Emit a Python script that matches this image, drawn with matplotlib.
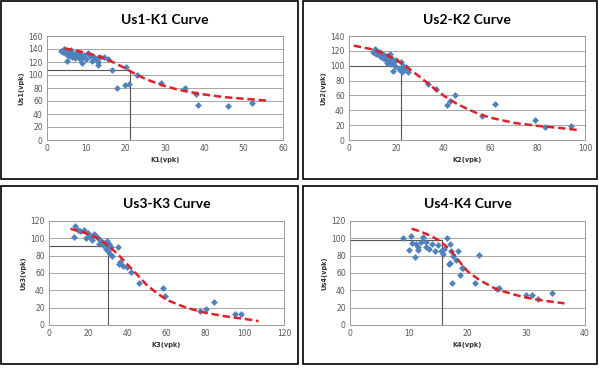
import matplotlib.pyplot as plt
from matplotlib.patches import Rectangle

# scatter data
K1 = [3.5, 4, 4.2, 4.5, 4.8, 5, 5.2, 5.5, 5.8, 6, 6.3, 6.5, 7, 7.2, 7.5, 8, 8.3, 8.5, 9, 9.2,
      9.5, 10, 10.5, 11, 11.5, 12, 12.5, 13, 13, 13.5, 14.5, 15.5, 16.5, 17.8, 19.8, 20.2, 20.8, 23, 29, 35,
      38, 38.5, 46, 52]
Us1 = [137, 135, 140, 138, 132, 122, 136, 130, 134, 138, 128, 133, 131, 126, 136, 129, 124, 133, 118, 127,
       131, 124, 134, 130, 122, 128, 125, 116, 120, 128, 128, 125, 108, 80, 84, 112, 86, 100, 88, 80,
       71, 54, 52, 57]

K2 = [10, 11, 11.5, 12, 12.5, 13, 13.5, 14, 14.5, 15, 15.5, 16, 16, 16.5, 17, 17.5, 18, 18, 18.5, 19,
      19.5, 20, 21, 22, 22.5, 23, 23.5, 24, 25, 33.5, 37, 41.5, 43, 45, 56.5, 62, 79, 83, 94]
Us2 = [118, 122, 116, 120, 114, 118, 112, 116, 110, 114, 108, 113, 104, 110, 106, 116, 102, 110, 93, 106,
       100, 108, 96, 105, 92, 100, 95, 98, 92, 75, 68, 47, 53, 61, 32, 48, 27, 18, 19]

K3 = [13, 13.5, 15, 16, 18, 19, 20, 21, 22, 23, 24, 25, 25.5, 26, 27, 27.5, 28, 29, 29.5, 30,
      30.5, 31, 31.5, 32, 35, 35.5, 36, 38, 40, 42, 46, 58, 59, 77, 80, 84, 95, 98]
Us3 = [102, 114, 110, 108, 110, 100, 106, 102, 98, 105, 103, 100, 94, 98, 96, 92, 95, 88, 97, 85,
       93, 82, 90, 80, 90, 70, 73, 68, 67, 61, 49, 43, 33, 16, 19, 26, 13, 13]

K4 = [9, 10, 10.3, 10.5, 11, 11.2, 11.5, 11.5, 12, 12.5, 13, 13, 13.5, 14, 14.5, 15, 15.5, 15.8, 16, 16.5,
      16.8, 17, 17, 17.2, 17.3, 17.5, 18, 18.3, 18.7, 19, 19.3, 21.3, 22, 25, 25.3, 30, 31, 32, 34.3]
Us4 = [100, 87, 103, 95, 78, 93, 90, 86, 96, 101, 96, 90, 88, 94, 85, 92, 85, 82, 88, 100,
       70, 72, 94, 85, 48, 80, 75, 85, 58, 66, 66, 48, 81, 42, 43, 35, 35, 30, 37]

# fitted curves (red dashed)
C1x = [4.5, 7, 10, 13, 16, 18, 20, 22, 25, 28, 30, 33, 36, 40, 45, 50, 56]
C1y = [141, 138, 134, 129, 122, 116, 110, 103, 94, 87, 83, 78, 74, 70, 66, 63.5, 60.5]
C2x = [2, 10, 15, 20, 25, 30, 35, 40, 45, 50, 55, 60, 70, 80, 90, 98]
C2y = [127, 122, 116, 108, 97, 85, 72, 60, 50, 42, 35, 30, 23, 19, 16, 13]
C3x = [11, 20, 25, 30, 35, 40, 45, 50, 55, 60, 70, 80, 90, 100, 107]
C3y = [111, 105, 100, 92, 82, 70, 58, 46, 37, 29, 20, 14, 10, 7, 4.5]
C4x = [10.5, 12, 14, 15, 16, 17, 18, 19, 20, 22, 25, 28, 30, 33, 36.5]
C4y = [111, 108, 102, 98, 93, 87, 79, 70, 62, 52, 41, 35, 31.5, 28, 25]

# reference boxes (x end, y top)
box1 = (21, 107)
box2 = (22, 100)
box3 = (30, 91)
box4 = (15.6, 98)

W, H = 599, 370
fig = plt.figure(figsize=(W / 100, H / 100), dpi=100)

panels = [
    ("Us1-K1 Curve", K1, Us1, C1x, C1y, box1, "K1(vpk)", "Us1(vpk)", (0, 60, 10), (0, 160, 20), (47, 283, 36, 140), (1, 1, 298, 179)),
    ("Us2-K2 Curve", K2, Us2, C2x, C2y, box2, "K2(vpk)", "Us2(vpk)", (0, 100, 20), (0, 140, 20), (349, 585, 36, 140), (303, 1, 597, 179)),
    ("Us3-K3 Curve", K3, Us3, C3x, C3y, box3, "K3(vpk)", "Us3(vpk)", (0, 120, 20), (0, 120, 20), (49, 284, 221, 325), (1, 186, 298, 364)),
    ("Us4-K4 Curve", K4, Us4, C4x, C4y, box4, "K4(vpk)", "Us4(vpk)", (0, 40, 10), (0, 120, 20), (350, 585, 221, 325), (303, 186, 597, 364)),
]

for title, xs, ys, cx, cy, box, xl, yl, xr, yr, pos, frame in panels:
    x0, x1, ytop, ybot = pos
    ax = fig.add_axes([x0 / W, 1 - ybot / H, (x1 - x0) / W, (ybot - ytop) / H])
    ax.set_xlim(xr[0], xr[1])
    ax.set_ylim(yr[0], yr[1])
    ax.set_xticks(range(xr[0], xr[1] + 1, xr[2]))
    ax.set_yticks(range(yr[0], yr[1] + 1, yr[2]))
    ax.yaxis.grid(True, color='#a6a6a6', lw=0.7)
    ax.set_axisbelow(True)
    for s in ax.spines.values():
        s.set_color('#9a9a9a')
        s.set_linewidth(0.7)
    ax.tick_params(length=0, labelsize=5.5, colors='#555555', pad=3)
    ax.plot([0, box[0], box[0]], [box[1], box[1], 0], color='#555555', lw=0.8)
    ax.scatter(xs, ys, marker='D', s=12, color='#4f81bd', zorder=3, linewidths=0)
    ax.plot(cx, cy, color='#e0202a', lw=1.8, ls=(0, (3, 1.5)), zorder=4)
    ax.set_xlabel(xl, fontsize=4.8, fontweight='bold', color='#333333', labelpad=3)
    ax.set_ylabel(yl, fontsize=4.8, fontweight='bold', color='#333333', labelpad=3)
    ax.set_title(title, fontsize=10, fontweight='bold', family='Lato', pad=9)

    fx0, fy0, fx1, fy1 = frame
    fig.patches.append(Rectangle((fx0 / W, 1 - fy1 / H), (fx1 - fx0) / W, (fy1 - fy0) / H,
                                 transform=fig.transFigure, fill=False, ec='black', lw=1.2))

fig.savefig('out.png', dpi=100)
